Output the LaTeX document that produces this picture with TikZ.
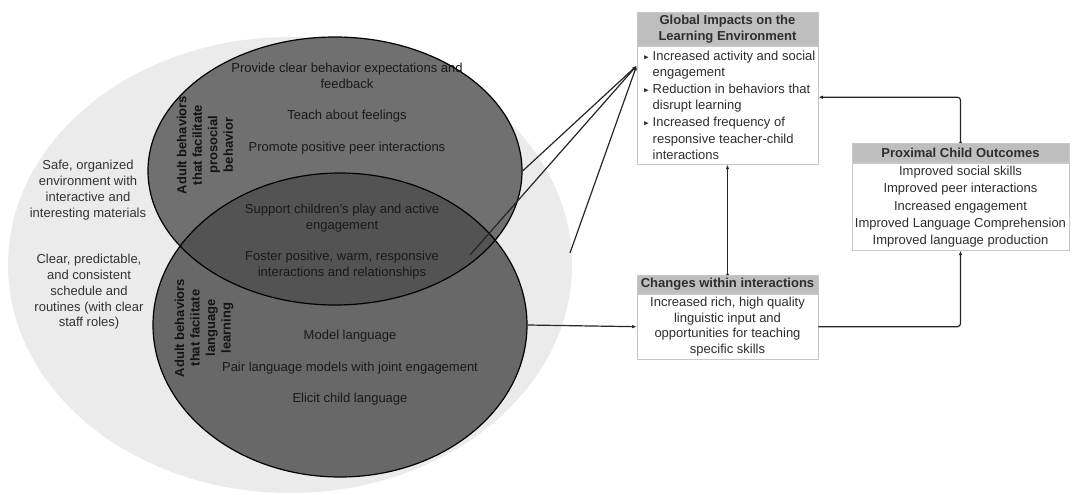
\documentclass[tikz,border=0pt]{standalone}
\usepackage{amssymb}
\usepackage{fontspec}
\setmainfont{Liberation Sans}
\usetikzlibrary{shapes.geometric,arrows.meta,positioning,calc}
\definecolor{envgray}{HTML}{EBEBEB}
\definecolor{prosgray}{HTML}{707070}
\definecolor{langgray}{HTML}{686868}
\definecolor{bothgray}{HTML}{535353}
\definecolor{headgray}{HTML}{BEBEBE}
\definecolor{framegray}{HTML}{C8C8C8}
\definecolor{inkgray}{HTML}{2E2E2E}
\newcommand{\gbullet}{\makebox[13pt][l]{\hspace{4pt}\raisebox{0.5pt}{\scalebox{0.55}{$\blacktriangleright$}}}}
\newcommand{\gindent}{\hspace*{13pt}}

\begin{document}
\begin{tikzpicture}[x=1pt,y=-1pt,
  every node/.style={font=\fontsize{13}{15.8}\selectfont,text=inkgray},
  ovaltext/.style={align=center,inner sep=0pt,text=black!90},
  sidetext/.style={align=center,inner sep=0pt,text=black!80},
  rotlabel/.style={align=center,rotate=90,inner sep=0pt,text=black!92,font=\fontsize{13}{15.5}\selectfont\bfseries},
  boxhead/.style={fill=headgray,draw=framegray,line width=0.8pt,minimum width=181pt,inner sep=1pt,align=center,anchor=north,font=\fontsize{13}{16}\selectfont\bfseries},
  boxbody/.style={fill=white,draw=framegray,line width=0.8pt,minimum width=181pt,inner sep=1pt,anchor=north},
  arr/.style={-{Latex[length=4.5pt,width=3.5pt]},line width=1.2pt,draw=black!85},
  link/.style={arr,{Latex[reversed,length=3pt,width=3pt]}-{Latex[length=4.5pt,width=3.5pt]},rounded corners=3pt}]
  \useasboundingbox (0,0) rectangle (1073,495);

  % classroom environment and the two sets of adult behaviors
  \fill[envgray] (290,265) ellipse [x radius=282,y radius=228];
  \fill[prosgray] (335,171) ellipse [x radius=187,y radius=134];
  \fill[langgray] (340,325) ellipse [x radius=187,y radius=152];
  \begin{scope}
    \clip (335,171) ellipse [x radius=187,y radius=134];
    \fill[bothgray] (340,325) ellipse [x radius=187,y radius=152];
  \end{scope}
  \node[ellipse,draw,line width=1.2pt,minimum width=374pt,minimum height=268pt] (pros) at (335,171) {};
  \node[ellipse,draw,line width=1.2pt,minimum width=374pt,minimum height=304pt] (lang) at (340,325) {};

  \node[sidetext] (layout) at (88,190) {Safe, organized\\environment with\\interactive and\\interesting materials};
  \node[sidetext] (routine) at (89,292) {Clear, predictable,\\and consistent\\schedule and\\routines (with clear\\staff roles)};

  \node[rotlabel] (proslabel) at (205,145) {Adult behaviors\\that facilitate\\prosocial\\behavior};
  \node[rotlabel] (langlabel) at (204,328) {Adult behaviors\\that faciitate\\language\\learning};

  \node[ovaltext] (expect) at (347,76) {Provide clear behavior expectations and\\feedback};
  \node[ovaltext] (feelings) at (347,116) {Teach about feelings};
  \node[ovaltext] (peers) at (347,148) {Promote positive peer interactions};
  \node[ovaltext] (play) at (342,218) {Support children's play and active\\engagement};
  \node[ovaltext] (warm) at (342,265) {Foster positive, warm, responsive\\interactions and relationships};
  \node[ovaltext] (model) at (350,336) {Model language};
  \node[ovaltext] (pair) at (350,368) {Pair language models with joint engagement};
  \node[ovaltext] (elicit) at (350,399) {Elicit child language};

  % outcome boxes
  \node[boxhead,minimum height=33pt] (globhead) at (727.5,12) {Global Impacts on the\\Learning Environment};
  \node[boxbody,minimum height=118pt,align=left,font=\fontsize{13}{16.6}\selectfont,below=0pt of globhead] (globbody)
    {\gbullet Increased activity and social\\\gindent engagement\\\gbullet Reduction in behaviors that\\\gindent disrupt learning\\\gbullet Increased frequency of\\\gindent responsive teacher-child\\\gindent interactions};

  \node[boxhead,minimum height=18pt] (changehead) at (727.5,275) {Changes within interactions};
  \node[boxbody,minimum height=65pt,align=center,font=\fontsize{13}{15.7}\selectfont,below=0pt of changehead] (changebody)
    {Increased rich, high quality\\linguistic input and\\opportunities for teaching\\specific skills};

  \node[boxhead,minimum width=217pt,minimum height=19pt] (proxhead) at (960.5,143) {Proximal Child Outcomes};
  \node[boxbody,minimum width=217pt,minimum height=87pt,align=center,font=\fontsize{13}{17.4}\selectfont,below=0pt of proxhead] (proxbody)
    {Improved social skills\\Improved peer interactions\\Increased engagement\\Improved Language Comprehension\\Improved language production};

  % connectors
  \coordinate (globin) at ([yshift=-20pt]globbody.north west);
  \coordinate (warmend) at (470,255);
  \coordinate (envedge) at (570,253);
  \draw[arr] (pros.east) -- (globin);
  \draw[arr] (warmend) -- (globin);
  \draw[arr] (envedge) -- (globin);
  \draw[arr] (lang.east) -- (changebody.west);
  \draw[arr,rounded corners=3pt] (changebody.east) -| (proxbody.south);
  \draw[link] (proxhead.north) |- ([yshift=8pt]globbody.east);
  \draw[link] (changehead.north) -- (globbody.south);
\end{tikzpicture}
\end{document}
